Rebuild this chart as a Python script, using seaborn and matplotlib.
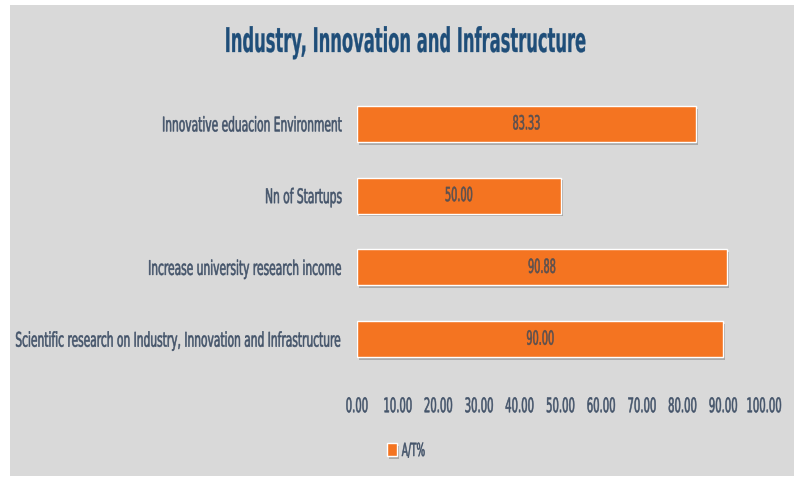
import pandas as pd
import matplotlib.pyplot as plt
import matplotlib.patheffects as pe
from matplotlib.patches import Rectangle
from matplotlib.transforms import Affine2D
import seaborn as sns

# Chart data
categories = ['Innovative eduacion Environment',
              'Nn of Startups',
              'Increase university research income',
              'Scientific research on Industry, Innovation and Infrastructure']
values = [83.33, 50.00, 90.88, 90.00]
series_name = 'A/T%'
x_ticks = [0, 10, 20, 30, 40, 50, 60, 70, 80, 90, 100]

df = pd.DataFrame({'category': categories, 'value': values})

sns.set_style('white')
plt.rcParams['font.family'] = ['DejaVu Sans']

label_color = '#44546a'
bar_color = '#f47421'
panel_color = '#d9d9d9'


class Squash(pe.AbstractPathEffect):
    """Draw text horizontally compressed (the source uses a condensed face)."""
    def __init__(self, sx=0.5, anchor=0.5, stroke=0.4):
        super().__init__()
        self.sx = sx
        self.anchor = anchor
        self.stroke = stroke

    def draw_path(self, renderer, gc, tpath, affine, rgbFace=None):
        ext = tpath.get_extents()
        x0 = ext.x0 + self.anchor * (ext.x1 - ext.x0)
        t = Affine2D().translate(-x0, 0).scale(self.sx, 1).translate(x0, 0) + affine
        gc0 = renderer.new_gc()
        gc0.copy_properties(gc)
        if self.stroke and rgbFace is not None:
            gc0.set_linewidth(self.stroke)
            gc0.set_foreground(rgbFace)
        renderer.draw_path(gc0, tpath, t, rgbFace)
        gc0.restore()


fig = plt.figure(figsize=(8.01, 4.78), dpi=100)
fig.patch.set_facecolor('white')
# grey chart-area panel
fig.patches.append(Rectangle((10 / 801, 2 / 478), 784 / 801, 471 / 478,
                             transform=fig.transFigure, facecolor=panel_color,
                             edgecolor='none', zorder=-5))

ax = fig.add_axes([357 / 801, 1 - 375 / 478, 407 / 801, 287 / 478])
ax.set_facecolor('none')

sns.barplot(data=df, y='category', x='value', orient='h', color=bar_color,
            width=0.5, saturation=1, ax=ax, label=series_name)

for bar, v in zip(ax.patches, values):
    bar.set_path_effects([pe.SimplePatchShadow(offset=(1.5, -2), shadow_rgbFace='#8a8a8a', alpha=0.6),
                          pe.Normal()])
    ax.text(bar.get_width() / 2, bar.get_y() + bar.get_height() / 2, f'{v:.2f}',
            ha='center', va='center', fontsize=14, color='#5a5050',
            path_effects=[Squash(0.5, 0.5)])

ax.set_xlim(0, 100)
ax.set_ylim(3.5, -0.5)
ax.set_xticks(x_ticks)
ax.set_xticklabels([f'{t:.2f}' for t in x_ticks])
ax.set_xlabel('')
ax.set_ylabel('')
ax.tick_params(axis='x', length=0, pad=16, labelsize=14.5, labelcolor=label_color)
ax.tick_params(axis='y', length=0, pad=10, labelsize=14.5, labelcolor=label_color)
for s in ax.spines.values():
    s.set_visible(False)
for lbl in ax.get_xticklabels():
    lbl.set_path_effects([Squash(0.5, 0.5)])
for lbl in ax.get_yticklabels():
    lbl.set_path_effects([Squash(0.53, 1.0)])

fig.text(405 / 801, 1 - 52 / 478, 'Industry, Innovation and Infrastructure',
         ha='center', va='baseline', fontsize=24.5, fontweight='bold', color='#1f4e79',
         path_effects=[Squash(0.48, 0.5, 0.2)])

leg = ax.legend(loc='center left', bbox_to_anchor=(371 / 801, 1 - 451 / 478),
                bbox_transform=fig.transFigure, frameon=False, fontsize=13,
                handlelength=0.55, handleheight=0.7, handletextpad=0.25)
for t in leg.get_texts():
    t.set_color(label_color)
    t.set_path_effects([Squash(0.5, 0.0)])

fig.savefig('out.png', dpi=100)
